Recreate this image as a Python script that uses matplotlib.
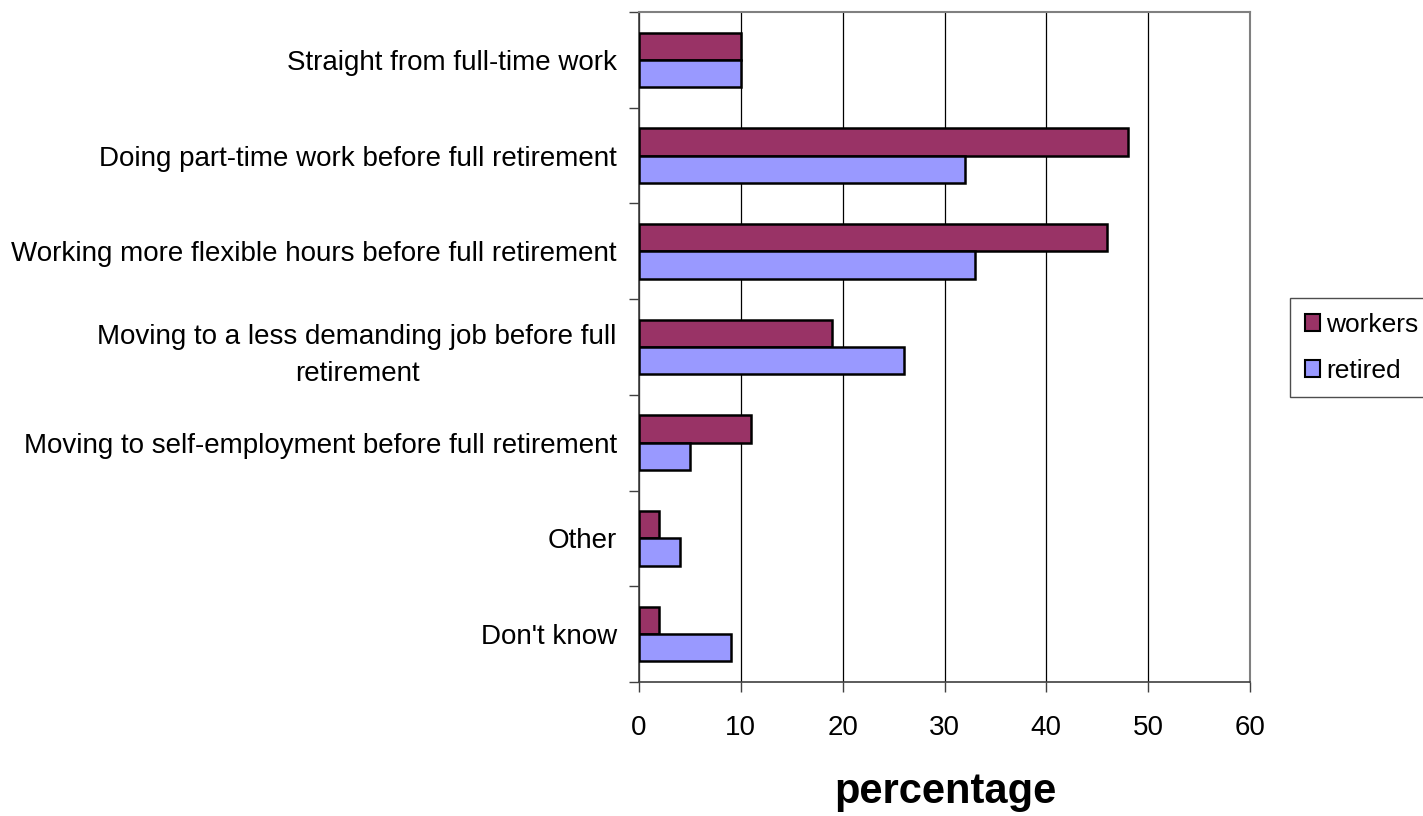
import matplotlib
matplotlib.use("Agg")
import matplotlib.pyplot as plt
import numpy as np
from matplotlib.ticker import FixedLocator
from matplotlib.patches import Patch

plt.rcParams['font.family'] = ['Liberation Sans', 'DejaVu Sans']

categories = [
    "Straight from full-time work",
    "Doing part-time work before full retirement",
    "Working more flexible hours before full retirement",
    "Moving to a less demanding job before full\nretirement",
    "Moving to self-employment before full retirement",
    "Other",
    "Don't know",
]
workers = [10, 48, 46, 19, 11, 2, 2]
retired = [10, 32, 33, 26, 5, 4, 9]
series_names = ["workers", "retired"]
x_ticks = [0, 10, 20, 30, 40, 50, 60]

c_workers = "#993366"
c_retired = "#9999FF"

W, H = 1423, 816
fig = plt.figure(figsize=(W/100, H/100), dpi=100)
ax = fig.add_axes([639/W, 1-682/H, (1250-639)/W, (682-12)/H])

n = len(categories)
y = np.arange(n)
h = 0.285
ax.barh(y - h/2, workers, height=h, color=c_workers, edgecolor="black", linewidth=1.8, zorder=3)
ax.barh(y + h/2, retired, height=h, color=c_retired, edgecolor="black", linewidth=1.8, zorder=3)

ax.set_ylim(n - 0.5, -0.5)
ax.set_xlim(0, 60)
ax.set_xticks(x_ticks)
ax.set_xticklabels([str(t) for t in x_ticks], fontsize=20)
ax.set_yticks(y)
ax.set_yticklabels(categories, fontsize=20, multialignment="center", linespacing=1.55)
ax.yaxis.set_minor_locator(FixedLocator(np.arange(n + 1) - 0.5))
ax.tick_params(axis="y", which="major", length=0, pad=16)
ax.tick_params(axis="y", which="minor", length=7, width=1, color="#404040", direction="out")
ax.tick_params(axis="x", which="major", length=7, width=1, color="#404040", direction="out", pad=17)

ax.xaxis.grid(True, color="black", linewidth=0.9, zorder=0)
ax.set_axisbelow(True)
for s in ["top", "right"]:
    ax.spines[s].set_color("#808080")
    ax.spines[s].set_linewidth(1.5)
for s in ["left", "bottom"]:
    ax.spines[s].set_color("#404040")
    ax.spines[s].set_linewidth(1.2)

fig.text(945/W, (H-803)/H, "percentage", fontsize=30, fontweight="bold",
         ha="center", va="baseline")

handles = [Patch(facecolor=c_workers, edgecolor="black", linewidth=1.5),
           Patch(facecolor=c_retired, edgecolor="black", linewidth=1.5)]
leg = fig.legend(handles, series_names, loc="upper left",
                 bbox_to_anchor=(1290/W, 1-298/H), fontsize=19,
                 frameon=True, fancybox=False, edgecolor="#202020",
                 handlelength=0.6, handleheight=0.6, handletextpad=0.22,
                 borderpad=0.55, labelspacing=0.85, borderaxespad=0)
leg.get_frame().set_linewidth(1.0)

fig.savefig("out.png", dpi=100, facecolor="white")
